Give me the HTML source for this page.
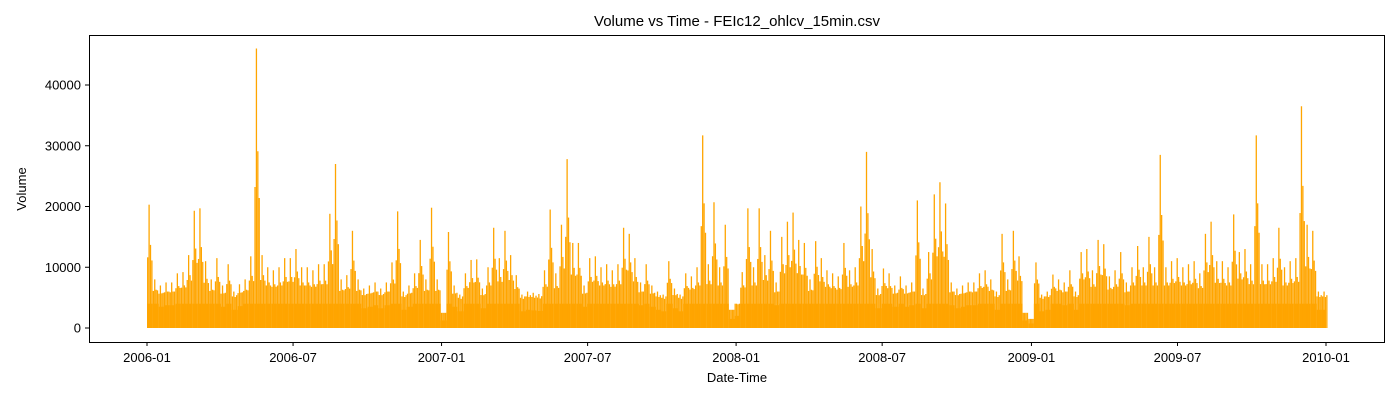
<!DOCTYPE html>
<html><head><meta charset="utf-8">
<style>
html,body{margin:0;padding:0;background:#fff;}
svg{display:block;font-family:"Liberation Sans","DejaVu Sans",sans-serif;}
</style></head>
<body>
<svg id="chart" width="1400" height="400" viewBox="0 0 1400 400" xmlns="http://www.w3.org/2000/svg">
<text x="737" y="26" font-size="15" text-anchor="middle">Volume vs Time - FEIc12_ohlcv_15min.csv</text>
<g id="marks"></g>
<rect x="89.5" y="35.5" width="1295" height="307" fill="none" stroke="#000" stroke-width="1"/>
<g id="axes"></g>
<text x="737" y="382" font-size="13" text-anchor="middle">Date-Time</text>
<text x="26" y="189" font-size="13" text-anchor="middle" transform="rotate(-90 26 189)">Volume</text>
</svg>
<script>
// Weekly peak volumes starting 2006-01-02
const weeklyPeaks = [20300,8000,7000,7500,7500,9000,9200,12000,19300,19700,11000,8000,11500,7000,10500,6000,7200,8000,11800,46000,
12000,10000,9500,10000,11500,11500,13000,10000,10000,9500,10500,10500,18800,27000,8000,8700,16000,8000,6500,7000,
7500,6500,7500,10800,19200,6000,7000,9000,14500,8000,19800,8000,2500,15800,7000,5500,9000,11200,11300,6500,
10000,16500,11500,16000,12000,8700,5500,6000,5800,5600,9500,19500,9000,17000,27800,14000,14000,7000,11500,11800,
10000,10500,9500,10500,16500,15500,11500,7500,10500,7000,6000,5500,11000,6500,5500,9000,8500,10000,31700,10500,
20700,10000,17000,3000,4000,9200,19700,10000,19700,12000,16000,7500,15000,17500,19000,14500,14000,8000,14300,11500,
9500,9000,8500,14000,9500,10000,20000,29000,13000,6500,9800,9000,7000,8500,7000,7500,21000,6500,12500,22000,
24000,20500,7500,6500,7000,7500,7500,9000,9500,8000,6000,15500,8000,16000,11800,2500,1500,10800,5500,6000,
8800,8000,7500,9500,6000,12500,13000,9500,14500,13800,8500,9500,12500,7500,10000,13500,10000,15000,10000,28500,
10000,11000,11500,10000,10500,11000,9000,15500,17500,11000,11000,10000,18700,12500,13000,10500,31700,10500,10500,11500,
16500,10000,11000,11500,36500,17000,16000,6000,6000];
const yTicks = [0,10000,20000,30000,40000];
const xTickLabels = ["2006-01","2006-07","2007-01","2007-07","2008-01","2008-07","2009-01","2009-07","2010-01"];
const xTickDays = [0,181,365,546,730,911,1096,1277,1461];

const NS="http://www.w3.org/2000/svg";
const yScale = v => 328 - v*243/40000;
const xScale = d => 147 + d*(1179/1461);
const marks=document.getElementById('marks');
const axes=document.getElementById('axes');
function mk(tag,attrs,parent){const e=document.createElementNS(NS,tag);for(const k in attrs)e.setAttribute(k,attrs[k]);parent.appendChild(e);return e;}

weeklyPeaks.forEach((v,i)=>{
  const x0=xScale(i*7), x1=xScale(Math.min(i*7+7,1461));
  const fill=Math.min(4000,v*0.5);
  const r=mk('rect',{x:x0,y:yScale(fill),width:Math.max(0.5,x1-x0),height:yScale(0)-yScale(fill),fill:'#ffa500'},marks);
  
  
  const hs=[Math.min(v,v*0.45+2500), v, Math.min(v,v*0.6+1500), Math.min(v,v*0.4+3000)];
  hs.forEach((h,k)=>{
    const xx=x0+0.7+k*1.4;
    const l=mk('line',{x1:xx,x2:xx,y1:yScale(0),y2:yScale(h),stroke:'#ffa500','stroke-width':1.3},marks);
    
    
  });
});

yTicks.forEach(t=>{
  const y=yScale(t);
  const tk=mk('line',{x1:85,x2:89,y1:y,y2:y,stroke:'#000'},axes);
  
  
  const tx=mk('text',{x:81,y:y+4.5,'font-size':13,'text-anchor':'end'},axes);
  tx.textContent=t;
  
  
});
xTickLabels.forEach((lab,i)=>{
  const x=xScale(xTickDays[i]);
  const tk=mk('line',{x1:x,x2:x,y1:342,y2:346,stroke:'#000'},axes);
  
  
  const tx=mk('text',{x:x,y:362,'font-size':13,'text-anchor':'middle'},axes);
  tx.textContent=lab;
  
  
});
</script>
</body></html>
